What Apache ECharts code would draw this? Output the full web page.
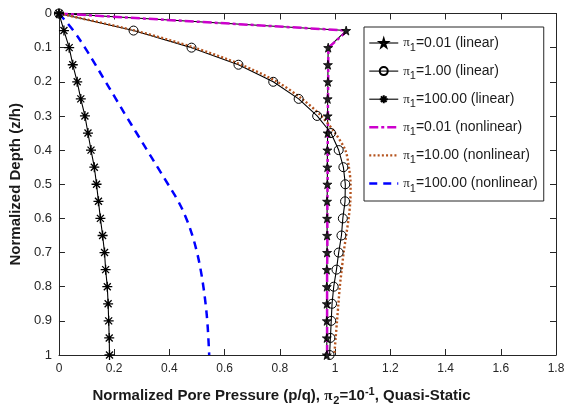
<!DOCTYPE html>
<html>
<head>
<meta charset="utf-8">
<script src="https://cdn.jsdelivr.net/npm/echarts@6/dist/echarts.min.js"></script>
<style>
  html, body { margin: 0; padding: 0; background: #fff; }
  #chart { width: 569px; height: 411px; }
</style>
</head>
<body>
<div id="chart"></div>
<script>
// Normalized depth z/h at which each profile is sampled
const depth = [0, 0.05, 0.1, 0.15, 0.2, 0.25, 0.3, 0.35, 0.4, 0.45, 0.5,
               0.55, 0.6, 0.65, 0.7, 0.75, 0.8, 0.85, 0.9, 0.95, 1.0];

// Normalized pore pressure p/q, linear model
const linear001 = [0, 1.04, 0.975, 0.974, 0.974, 0.973, 0.973, 0.973, 0.972, 0.972, 0.972,
                   0.971, 0.971, 0.971, 0.971, 0.970, 0.970, 0.970, 0.970, 0.970, 0.970];
const linear1 = [0, 0.27, 0.48, 0.65, 0.776, 0.868, 0.935, 0.985, 1.013, 1.03, 1.037,
                 1.036, 1.028, 1.023, 1.013, 1.005, 0.995, 0.989, 0.986, 0.983, 0.98];
const linear100 = [0, 0.018, 0.037, 0.05, 0.066, 0.079, 0.094, 0.105, 0.116, 0.128, 0.136,
                   0.143, 0.15, 0.158, 0.165, 0.169, 0.175, 0.178, 0.18, 0.182, 0.183];

// Normalized pore pressure p/q, nonlinear model
const nonlinear001 = [0, 1.045, 0.976, 0.975, 0.975, 0.974, 0.974, 0.974, 0.973, 0.973, 0.973,
                      0.972, 0.972, 0.972, 0.972, 0.971, 0.971, 0.971, 0.971, 0.971, 0.971];
const nonlinear10 = [0, 0.275, 0.49, 0.66, 0.79, 0.88, 0.95, 1.0, 1.037, 1.05, 1.056,
                     1.055, 1.049, 1.04, 1.031, 1.024, 1.017, 1.012, 1.007, 1.002, 0.997];
const nonlinear100 = [0, 0.052, 0.094, 0.132, 0.169, 0.206, 0.243, 0.281, 0.319, 0.357, 0.395,
                      0.432, 0.461, 0.483, 0.5, 0.513, 0.523, 0.531, 0.537, 0.541, 0.544];

// Axis ticks
const xTicks = [0, 0.2, 0.4, 0.6, 0.8, 1, 1.2, 1.4, 1.6, 1.8];
const yTicks = [0, 0.1, 0.2, 0.3, 0.4, 0.5, 0.6, 0.7, 0.8, 0.9, 1];

const legendNames = [
  'π1=0.01 (linear)', 'π1=1.00 (linear)', 'π1=100.00 (linear)',
  'π1=0.01 (nonlinear)', 'π1=10.00 (nonlinear)', 'π1=100.00 (nonlinear)'
];

const STAR = 'path://M50,0 L61,35 L98,35 L68,57 L79,91 L50,70 L21,91 L32,57 L2,35 L39,35 Z';
const ASTERISK = 'path://M50,0 L50,100 M0,50 L100,50 M15,15 L85,85 M85,15 L15,85';

function pairs(values) {
  return values.map((v, i) => [v, depth[i]]);
}

const axisColor = '#262626';
const tickFont = 'Liberation Sans, Arial, sans-serif';

const styles = [
  { line: { color: '#000', width: 1.1 } },
  { line: { color: '#000', width: 1.1 } },
  { line: { color: '#000', width: 1.1 } },
  { line: { color: '#cc00cc', width: 2.5, type: [9, 3, 3, 3] } },
  { line: { color: '#b5541f', width: 2.4, type: [2, 2.2] } },
  { line: { color: '#0000ff', width: 2.5, type: [8, 6] } }
];

const chart = echarts.init(document.getElementById('chart'), null, { renderer: 'canvas' });

const baseAxis = {
  type: 'value',
  axisLine: { show: true, onZero: false, lineStyle: { color: axisColor, width: 1 } },
  axisTick: { show: true, inside: true, length: 6, lineStyle: { color: axisColor } },
  splitLine: { show: false }
};

// Legend entries: line-only series get no marker in their key
const legendData = legendNames.map((n, i) => {
  const item = { name: n, lineStyle: Object.assign({}, styles[i].line) };
  if (i >= 3) item.itemStyle = { color: 'rgba(0,0,0,0)', borderWidth: 0, opacity: 0 };
  return item;
});

chart.setOption({
  animation: false,
  grid: { left: 57, right: 13, top: 13.5, bottom: 52 },
  xAxis: [
    Object.assign({}, baseAxis, {
      position: 'bottom', min: xTicks[0], max: xTicks[xTicks.length - 1], interval: 0.2,
      axisLabel: { color: axisColor, fontFamily: tickFont, fontSize: 12, margin: 8 },
      name: 'Normalized Pore Pressure (p/q), {pi|π}{sub|2}{b|=10}{sup|-1}{b|, Quasi-Static}',
      nameLocation: 'middle', nameGap: 31,
      nameTextStyle: {
        color: '#1a1a1a', fontFamily: tickFont, fontWeight: 'bold', fontSize: 15,
        padding: [0, 52, 0, 0],
        rich: {
          b: { fontFamily: tickFont, fontWeight: 'bold', fontSize: 15, color: '#1a1a1a' },
          pi: { fontFamily: 'Liberation Serif, serif', fontSize: 15, color: '#1a1a1a', padding: [0, 1, 0, 0] },
          sub: { fontFamily: tickFont, fontWeight: 'bold', fontSize: 11, color: '#1a1a1a', padding: [9, 0, 0, 0] },
          sup: { fontFamily: tickFont, fontWeight: 'bold', fontSize: 11, color: '#1a1a1a', padding: [0, 0, 9, 0] }
        }
      }
    }),
    Object.assign({}, baseAxis, {
      position: 'top', min: xTicks[0], max: xTicks[xTicks.length - 1], interval: 0.2,
      axisLabel: { show: false }
    })
  ],
  yAxis: [
    Object.assign({}, baseAxis, {
      position: 'left', inverse: true, min: yTicks[0], max: yTicks[yTicks.length - 1], interval: 0.1,
      axisLabel: { color: axisColor, fontFamily: tickFont, fontSize: 13, margin: 7 },
      name: 'Normalized Depth (z/h)', nameLocation: 'middle', nameGap: 28, nameRotate: 90,
      nameTextStyle: { color: '#1a1a1a', fontFamily: tickFont, fontWeight: 'bold', fontSize: 15 }
    }),
    Object.assign({}, baseAxis, {
      position: 'right', inverse: true, min: yTicks[0], max: yTicks[yTicks.length - 1], interval: 0.1,
      axisLabel: { show: false }
    })
  ],
  legend: {
    orient: 'vertical', left: 364, top: 27,
    data: legendData,
    backgroundColor: '#fff', borderColor: '#262626', borderWidth: 1,
    padding: [9, 6, 7, 4],
    itemWidth: 29, itemHeight: 10, itemGap: 10.6,
    formatter: name => name.replace('π1', '{pi|π}{sub|1}'),
    textStyle: {
      color: '#1a1a1a', fontFamily: tickFont, fontSize: 14,
      rich: {
        pi: { fontFamily: 'Liberation Serif, serif', fontSize: 13, color: '#1a1a1a' },
        sub: { fontFamily: tickFont, fontSize: 11, color: '#1a1a1a', padding: [10, 0, 0, 0] }
      }
    }
  },
  series: [
    {
      name: legendNames[0], type: 'line', data: pairs(linear001),
      symbol: STAR, symbolSize: 9, showAllSymbol: true,
      lineStyle: styles[0].line,
      itemStyle: { color: '#222', borderColor: '#000', borderWidth: 0.8 }
    },
    {
      name: legendNames[1], type: 'line', data: pairs(linear1),
      symbol: 'circle', symbolSize: 9, showAllSymbol: true,
      lineStyle: styles[1].line,
      itemStyle: { color: 'rgba(0,0,0,0)', borderColor: '#000', borderWidth: 1 }
    },
    {
      name: legendNames[2], type: 'line', data: pairs(linear100),
      symbol: ASTERISK, symbolSize: 10, showAllSymbol: true,
      lineStyle: styles[2].line,
      itemStyle: { color: 'rgba(0,0,0,0)', borderColor: '#000', borderWidth: 1.3 }
    },
    {
      name: legendNames[3], type: 'line', data: pairs(nonlinear001),
      symbol: 'none', lineStyle: styles[3].line, itemStyle: { color: '#cc00cc' }
    },
    {
      name: legendNames[4], type: 'line', data: pairs(nonlinear10), smooth: 0.3,
      symbol: 'none', lineStyle: styles[4].line, itemStyle: { color: '#b5541f' }
    },
    {
      name: legendNames[5], type: 'line', data: pairs(nonlinear100), smooth: 0.4,
      symbol: 'none', lineStyle: styles[5].line, itemStyle: { color: '#0000ff' }
    }
  ]
});
</script>
</body>
</html>
